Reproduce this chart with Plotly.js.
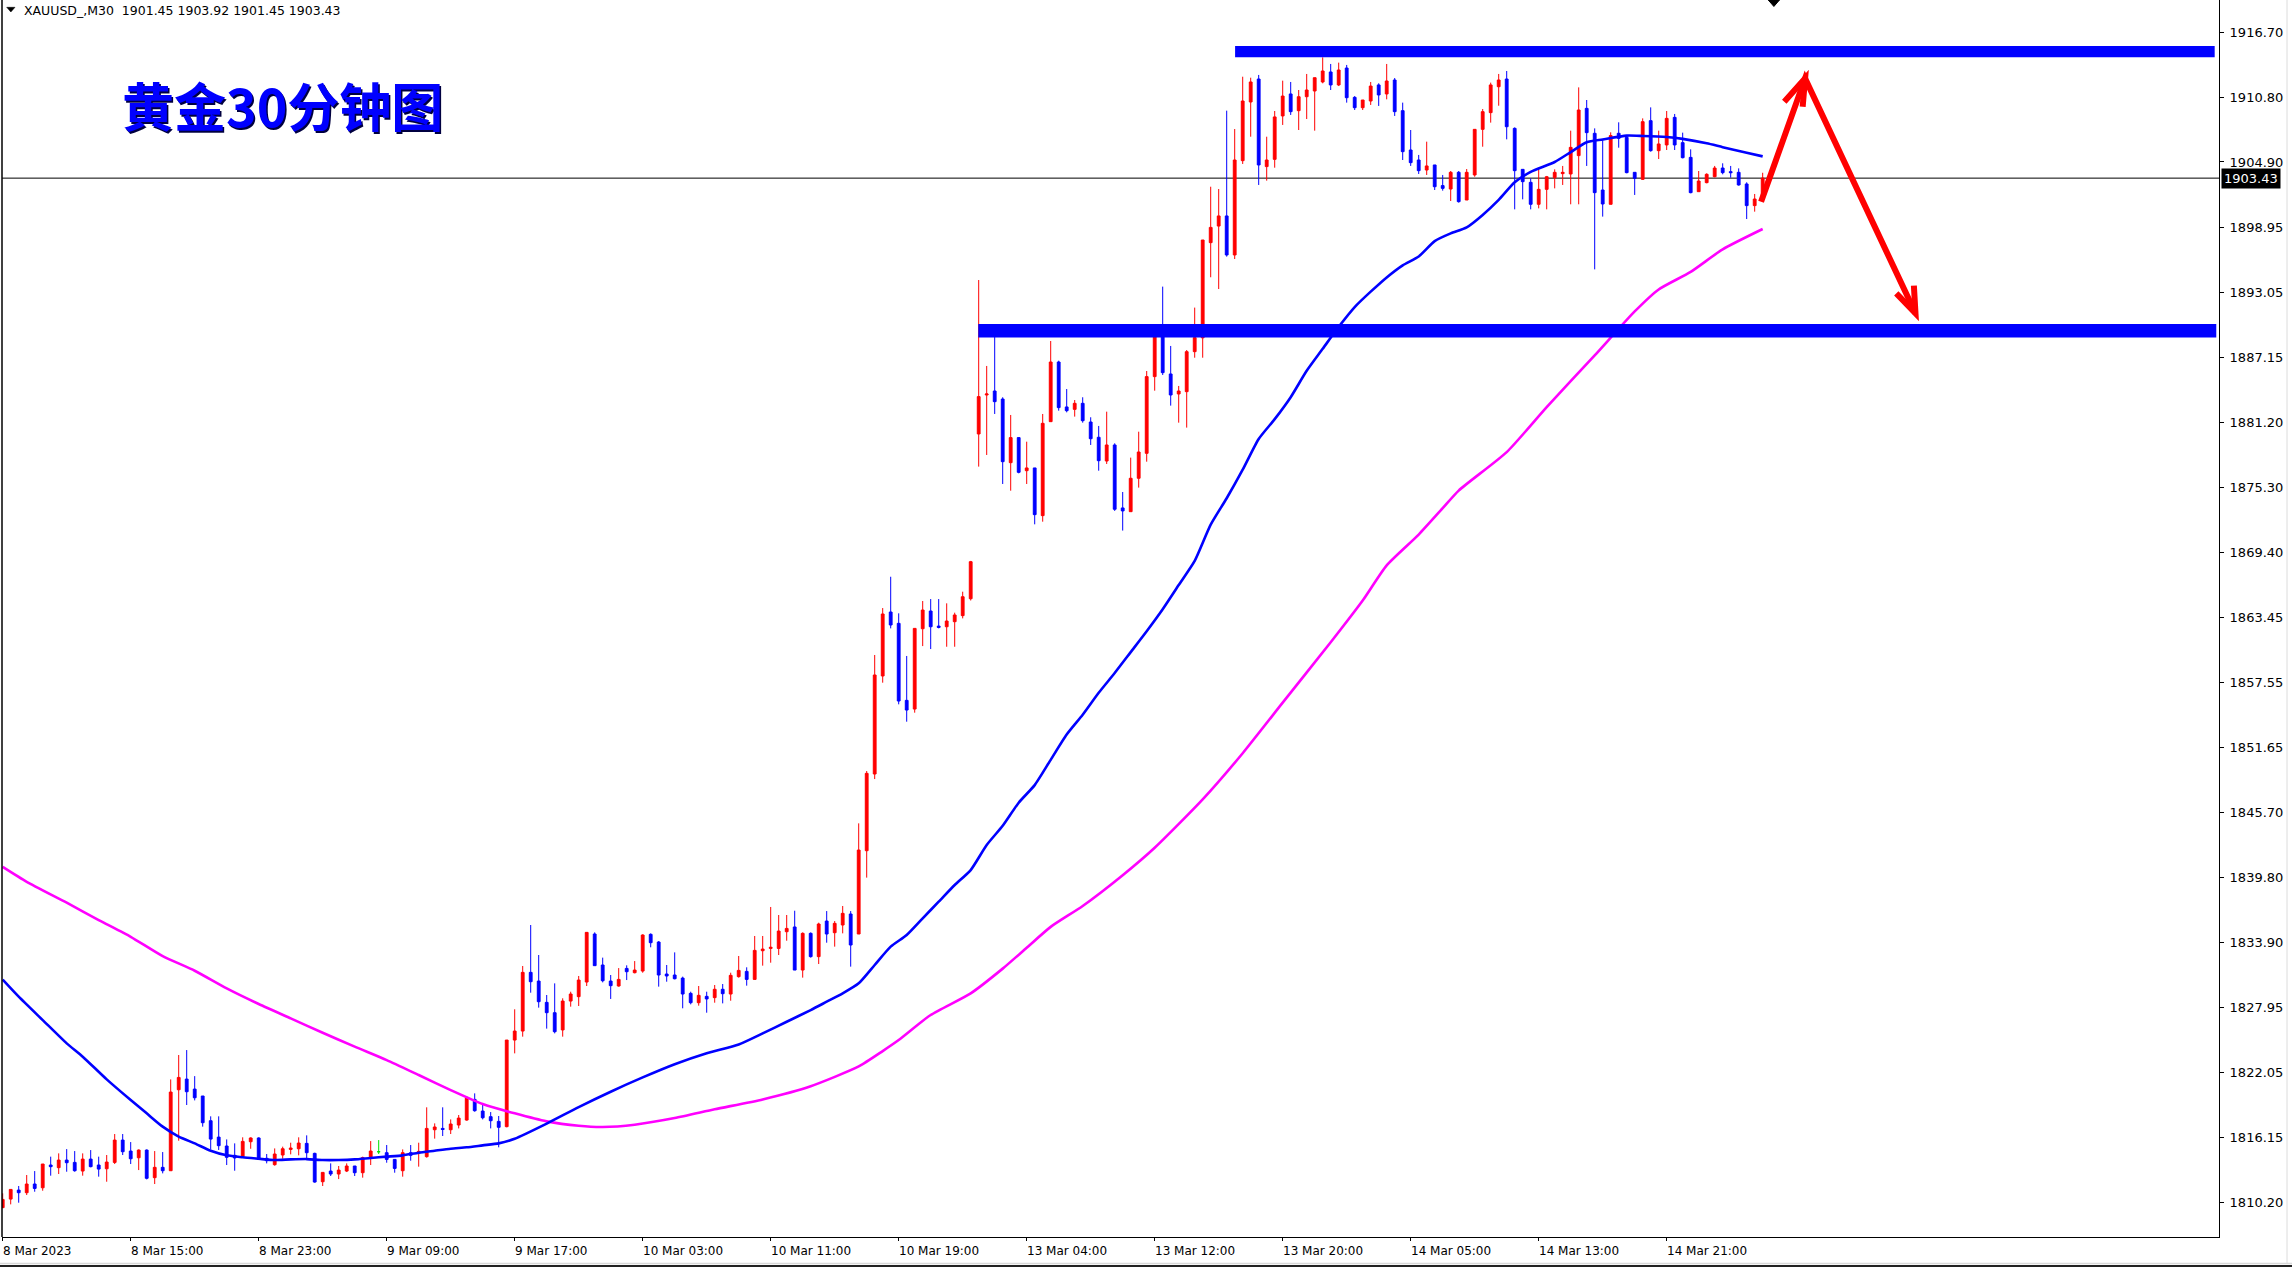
<!DOCTYPE html>
<html><head><meta charset="utf-8">
<script src="https://cdn.plot.ly/plotly-3.0.1.min.js"></script>
<style>html,body{margin:0;padding:0;background:#fff;overflow:hidden}#chart{width:2292px;height:1267px}</style>
</head><body><div id="chart"></div>
<script>
const symbolInfo = "XAUUSD_,M30  1901.45 1903.92 1901.45 1903.43";
const chartTitle = "黄金30分钟图";

const openP = [1809.75,1810.53,1811.35,1811.11,1811.90,1811.56,1813.63,1813.39,1814.08,1813.87,
1813.08,1814.17,1813.63,1813.29,1813.87,1815.90,1814.90,1814.29,1814.99,1812.48,
1813.42,1813.11,1820.48,1821.45,1820.54,1819.91,1817.66,1816.17,1815.36,1814.51,
1814.39,1815.75,1816.09,1814.24,1813.66,1814.54,1815.05,1815.11,1815.60,1814.69,
1812.11,1813.08,1812.81,1813.08,1813.54,1812.93,1814.33,1814.84,1814.75,1814.14,
1813.11,1814.75,1814.69,1814.39,1816.84,1816.96,1816.84,1817.27,1817.72,1819.60,
1818.54,1818.03,1817.60,1817.12,1825.00,1825.82,1831.16,1830.37,1828.43,1827.49,
1825.92,1828.55,1828.95,1830.28,1834.65,1831.83,1830.37,1829.92,1831.52,1831.13,
1831.28,1834.62,1833.92,1831.01,1830.92,1830.64,1829.25,1828.40,1828.98,1828.86,
1829.62,1829.19,1830.77,1831.25,1830.52,1833.13,1833.34,1833.34,1834.86,1835.29,
1831.37,1834.71,1832.59,1835.83,1834.77,1835.47,1836.47,1834.65,1842.23,1849.21,
1858.13,1863.95,1862.92,1855.91,1855.12,1862.43,1864.04,1862.67,1862.61,1863.07,
1863.62,1865.16,1880.15,1883.70,1884.06,1883.33,1877.54,1879.82,1876.81,1877.06,
1872.72,1881.27,1886.70,1882.61,1882.39,1882.94,1881.24,1879.85,1877.69,1879.15,
1873.42,1873.08,1876.12,1878.39,1885.37,1889.30,1885.61,1883.79,1884.00,1887.64,
1888.90,1897.56,1899.07,1899.99,1896.44,1905.02,1910.36,1912.45,1904.48,1905.14,
1909.09,1911.09,1909.57,1910.84,1911.36,1912.18,1913.09,1911.91,1913.45,1910.78,
1909.84,1910.45,1911.91,1911.09,1912.36,1909.57,1905.99,1905.08,1904.17,1904.63,
1902.75,1902.44,1903.96,1901.44,1903.72,1907.87,1909.39,1911.75,1912.45,1907.96,
1904.23,1903.05,1901.05,1902.41,1903.47,1903.84,1903.81,1905.48,1909.78,1907.51,
1902.35,1901.05,1907.51,1907.14,1903.96,1903.32,1908.66,1905.93,1906.45,1908.96,
1906.66,1905.32,1902.20,1903.02,1903.56,1904.35,1904.02,1903.96,1902.90,1900.93,
1901.45];
const highP = [1811.05,1811.41,1811.72,1812.72,1813.08,1813.72,1814.39,1814.69,1815.08,1814.90,
1814.69,1814.99,1814.39,1814.54,1816.45,1816.45,1815.72,1815.05,1815.05,1814.90,
1814.81,1821.42,1823.64,1824.09,1821.72,1819.91,1818.06,1818.06,1815.96,1815.60,
1816.15,1816.15,1816.15,1814.63,1815.14,1815.30,1815.66,1816.15,1816.33,1814.75,
1812.96,1813.78,1813.54,1813.78,1813.54,1814.39,1815.81,1815.90,1815.45,1814.14,
1815.05,1815.45,1815.66,1818.88,1817.42,1818.88,1817.78,1818.18,1819.91,1820.15,
1819.24,1818.45,1818.09,1825.00,1827.80,1831.74,1835.47,1832.74,1829.10,1830.16,
1828.80,1829.40,1830.83,1834.80,1834.80,1832.50,1830.92,1831.55,1831.80,1832.19,
1834.62,1834.71,1834.01,1831.83,1832.98,1830.77,1829.40,1829.92,1829.40,1830.01,
1830.10,1831.13,1832.65,1831.62,1834.47,1834.47,1837.11,1836.38,1836.38,1836.77,
1834.80,1834.80,1835.68,1836.74,1835.83,1837.20,1836.74,1844.72,1849.48,1860.04,
1864.31,1867.16,1863.83,1859.95,1862.46,1864.95,1865.13,1865.13,1864.74,1863.89,
1865.80,1868.60,1894.16,1886.34,1889.01,1883.49,1881.88,1879.82,1879.45,1877.06,
1881.97,1888.61,1886.82,1884.24,1883.24,1883.49,1881.67,1880.88,1882.18,1879.30,
1874.87,1878.00,1880.36,1885.88,1889.50,1893.56,1888.16,1884.52,1887.79,1891.65,
1897.80,1902.65,1902.44,1909.57,1907.90,1912.66,1912.57,1912.82,1907.20,1909.54,
1912.30,1912.18,1911.45,1912.91,1912.57,1914.42,1913.82,1913.94,1913.73,1910.90,
1910.54,1912.18,1912.06,1913.82,1912.54,1910.30,1907.81,1905.54,1906.75,1904.63,
1903.72,1904.08,1904.08,1904.26,1907.87,1909.72,1912.12,1912.91,1913.18,1908.05,
1904.23,1903.41,1904.32,1903.63,1904.23,1904.54,1907.75,1911.69,1910.54,1907.96,
1906.90,1907.60,1908.51,1907.14,1903.96,1908.87,1909.87,1907.75,1909.54,1909.27,
1907.57,1906.05,1904.08,1903.87,1904.54,1904.78,1904.54,1904.32,1903.05,1901.99,
1903.92];
const lowP = [1809.75,1810.05,1810.20,1810.90,1811.20,1811.29,1812.66,1812.81,1813.02,1813.02,
1812.66,1813.42,1812.57,1812.11,1813.72,1814.54,1813.72,1813.17,1812.32,1811.90,
1812.87,1813.11,1815.84,1819.09,1819.51,1817.12,1815.05,1815.00,1813.63,1813.11,
1814.39,1815.11,1814.08,1813.78,1813.57,1814.20,1814.60,1814.51,1814.24,1812.02,
1811.72,1812.63,1812.35,1812.99,1812.63,1812.48,1813.63,1814.63,1813.84,1812.93,
1812.57,1814.02,1813.48,1814.30,1816.03,1816.27,1816.45,1816.96,1817.66,1818.48,
1817.78,1816.96,1815.24,1817.06,1823.79,1825.31,1829.31,1827.95,1826.04,1825.61,
1825.31,1828.04,1828.10,1829.92,1831.77,1830.25,1828.74,1829.86,1830.46,1831.07,
1831.13,1833.44,1829.86,1830.31,1830.52,1827.89,1828.25,1828.13,1827.49,1828.40,
1828.34,1828.58,1830.68,1829.95,1830.52,1831.77,1832.04,1832.74,1834.04,1831.37,
1830.68,1832.50,1831.92,1833.86,1833.50,1834.71,1831.68,1834.65,1839.78,1848.75,
1857.52,1862.46,1855.55,1853.97,1854.79,1860.85,1860.58,1862.46,1860.79,1860.79,
1863.37,1865.00,1877.18,1878.24,1881.97,1875.60,1874.99,1876.57,1875.60,1871.93,
1872.17,1881.27,1882.27,1882.12,1881.73,1881.18,1879.15,1876.81,1877.42,1873.15,
1871.36,1873.08,1875.27,1877.63,1884.09,1885.52,1882.73,1881.18,1880.73,1887.09,
1887.09,1894.41,1893.34,1896.29,1896.07,1904.72,1907.20,1902.81,1903.20,1904.38,
1908.27,1909.18,1907.81,1908.81,1907.75,1912.06,1911.45,1911.81,1910.30,1909.63,
1909.63,1910.09,1910.00,1910.60,1909.09,1905.08,1904.54,1903.81,1903.72,1902.35,
1902.29,1901.35,1901.20,1901.44,1903.56,1906.29,1908.48,1910.02,1906.96,1900.59,
1901.50,1900.59,1900.68,1900.59,1902.50,1902.81,1901.05,1901.05,1904.54,1895.13,
1899.93,1901.05,1906.20,1903.87,1901.90,1903.26,1905.84,1905.17,1905.99,1905.99,
1905.23,1902.05,1902.20,1902.96,1903.50,1903.78,1903.47,1902.75,1899.71,1900.38,
1901.45];
const closeP = [1810.50,1811.41,1811.11,1811.90,1811.50,1813.72,1813.48,1814.08,1813.84,1813.11,
1814.17,1813.48,1813.26,1813.90,1815.90,1814.84,1814.20,1814.99,1812.42,1813.42,
1813.11,1820.27,1821.60,1820.30,1819.75,1817.48,1815.99,1815.39,1814.33,1814.27,
1815.78,1816.09,1814.14,1814.02,1814.63,1815.11,1815.17,1815.63,1814.75,1812.08,
1812.96,1812.81,1813.17,1813.54,1812.93,1814.30,1814.90,1814.84,1814.14,1813.32,
1814.75,1814.51,1814.87,1816.96,1817.09,1816.87,1817.36,1817.90,1819.72,1818.57,
1817.93,1817.66,1817.06,1825.00,1825.82,1831.16,1830.31,1828.49,1827.49,1825.76,
1828.55,1829.19,1830.46,1834.80,1831.77,1830.40,1829.95,1830.52,1831.22,1831.37,
1834.56,1833.86,1830.92,1830.83,1830.58,1829.19,1828.40,1829.07,1828.74,1829.62,
1829.22,1830.89,1831.34,1830.52,1833.16,1833.28,1833.44,1834.92,1835.16,1831.37,
1834.71,1832.59,1835.56,1834.65,1835.62,1836.53,1833.65,1842.29,1849.27,1858.22,
1863.77,1862.77,1855.85,1855.03,1862.46,1864.13,1862.61,1862.55,1863.13,1863.68,
1865.34,1868.53,1883.55,1883.79,1883.09,1877.63,1879.82,1876.66,1877.06,1872.81,
1881.12,1886.70,1882.55,1882.27,1882.94,1881.36,1879.72,1877.72,1879.15,1873.30,
1873.15,1876.12,1878.51,1885.37,1889.00,1885.73,1883.70,1884.06,1887.64,1888.92,
1897.80,1898.95,1899.99,1896.44,1905.08,1910.45,1912.18,1904.63,1905.08,1909.00,
1910.90,1909.48,1910.84,1911.45,1912.57,1913.18,1911.91,1913.27,1910.75,1909.84,
1910.54,1911.81,1911.00,1912.27,1909.48,1905.84,1904.84,1904.11,1904.54,1902.65,
1902.50,1903.96,1901.29,1903.96,1907.87,1909.48,1911.91,1912.36,1908.11,1904.11,
1903.11,1901.05,1902.41,1903.56,1903.96,1903.96,1906.23,1909.63,1907.57,1902.11,
1901.08,1907.30,1907.05,1903.93,1903.41,1908.57,1905.93,1906.54,1908.87,1906.45,
1905.29,1902.11,1903.17,1903.78,1904.35,1903.93,1903.93,1902.81,1900.93,1901.53,
1903.43];
const dojiBars = [47];

const maFastIdx = [0,2,5,8,10,13,16,18,20,22,24,26,28,30,32,34,36,38,40,42,44,46,48,50,52,54,56,58,60,62,
64,68,72,76,80,84,88,92,95,98,101,103,105,107,109,111,113,115,117,119,121,123,125,127,129,131,133,135,137,139,
141,143,145,147,149,151,153,155,157,159,161,163,165,167,169,171,173,175,177,179,181,183,185,187,189,191,194,196,198,200,
203,205,208,210,213,215,218,220];
const maFastVal = [1830.5,1828.95,1826.82,1824.70,1823.49,1821.42,1819.54,1818.33,1817.12,1816.21,
1815.60,1814.93,1814.51,1814.33,1814.20,1814.08,1814.14,1814.17,1814.08,1814.08,
1814.14,1814.27,1814.39,1814.51,1814.75,1814.93,1815.11,1815.24,1815.42,1815.60,
1816.02,1817.4,1818.9,1820.3,1821.6,1822.8,1823.8,1824.6,1825.61,1826.67,
1827.73,1828.49,1829.25,1830.16,1831.83,1833.50,1834.56,1836.08,1837.59,1839.11,
1840.47,1842.75,1844.5,1846.6,1848.2,1850.5,1852.8,1854.6,1856.6,1858.4,
1860.3,1862.2,1864.2,1866.4,1868.6,1871.9,1874.3,1876.9,1879.7,1881.5,
1883.5,1885.9,1887.9,1889.9,1891.7,1893.1,1894.4,1895.5,1896.3,1897.7,
1898.4,1898.95,1900.08,1901.45,1903.05,1904.0,1904.9,1905.8,1906.7,1906.95,
1907.3,1907.27,1907.17,1907.0,1906.6,1906.25,1905.75,1905.41];

const maSlowIdx = [0,3,8,12,16,20,24,28,32,36,40,44,48,52,56,60,64,68,72,75,
79,84,89,95,101,107,110,112,116,121,125,128,131,135,140,144,150,155,160,166,
170,173,177,180,182,188,193,199,204,207,211,215,220];
const maSlowVal = [1840.76,1839.4,1837.50,1835.92,1834.40,1832.64,1831.31,1829.70,1828.28,1826.97,
1825.67,1824.40,1823.18,1821.82,1820.45,1819.18,1818.33,1817.6,1817.2,1817.09,
1817.3,1817.9,1818.7,1819.6,1820.8,1822.6,1824.0,1825.0,1827.28,1829.25,
1831.5,1833.4,1835.3,1837.2,1840.0,1842.5,1846.9,1851.1,1855.7,1861.2,
1865.0,1868.2,1871.0,1873.4,1875.0,1878.5,1882.6,1887.3,1891.3,1893.3,
1894.9,1896.95,1898.8];

const xTickIdx = [0,16,32,48,64,80,96,112,128,144,160,176,192,208];
const xTickText = ["8 Mar 2023","8 Mar 15:00","8 Mar 23:00","9 Mar 09:00","9 Mar 17:00","10 Mar 03:00","10 Mar 11:00","10 Mar 19:00","13 Mar 04:00","13 Mar 12:00","13 Mar 20:00","14 Mar 05:00","14 Mar 13:00","14 Mar 21:00"];
const yTickVals = [1916.70,1910.80,1904.90,1898.95,1893.05,1887.15,1881.20,1875.30,1869.40,1863.45,1857.55,1851.65,1845.70,1839.80,1833.90,1827.95,1822.05,1816.15,1810.20];
const lastPrice = 1903.43;
const resistanceBand = [1914.42, 1915.45];
const supportBand = [1888.93, 1890.15];

// build traces
const N = openP.length;
const mainO=[], mainH=[], mainL=[], mainC=[], mainX=[];
const dX=[], dO=[], dH=[], dL=[], dC=[];
for (let i=0;i<N;i++){
  if (dojiBars.indexOf(i) >= 0){ dX.push(i); dO.push(openP[i]); dH.push(highP[i]); dL.push(lowP[i]); dC.push(closeP[i]); }
  else { mainX.push(i); mainO.push(openP[i]); mainH.push(highP[i]); mainL.push(lowP[i]); mainC.push(closeP[i]); }
}
const RED='#FF0000', BLUE='#0000FF', MAG='#FF00FF';
const traces = [
  {type:'candlestick', x:mainX, open:mainO, high:mainH, low:mainL, close:mainC,
   increasing:{line:{color:RED,width:1}, fillcolor:RED},
   decreasing:{line:{color:BLUE,width:1}, fillcolor:BLUE},
   whiskerwidth:0, hoverinfo:'skip', showlegend:false},
  {type:'candlestick', x:dX, open:dO, high:dH, low:dL, close:dC,
   increasing:{line:{color:'#00E000',width:1}, fillcolor:'#00E000'},
   decreasing:{line:{color:'#00E000',width:1}, fillcolor:'#00E000'},
   whiskerwidth:0, hoverinfo:'skip', showlegend:false},
  {type:'scatter', mode:'lines', x:maSlowIdx, y:maSlowVal, line:{color:MAG,width:2.6,shape:'spline',smoothing:0.6}, hoverinfo:'skip', showlegend:false},
  {type:'scatter', mode:'lines', x:maFastIdx, y:maFastVal, line:{color:BLUE,width:2.6,shape:'spline',smoothing:0.6}, hoverinfo:'skip', showlegend:false}
];

const W=2292, H=1267, ML=2, MR=73, MT=0, MB=30;
const plotW = W-ML-MR, plotH = H-MT-MB;
const px = (xp)=> (xp-ML)/plotW;        // pixel x -> paper
const py = (yp)=> 1-(yp-MT)/plotH;       // pixel y -> paper

const annotations = [];
xTickIdx.forEach((v,k)=>{
  annotations.push({x:v, xref:'x', y:py(1250.5), yref:'paper', text:xTickText[k], showarrow:false,
    xanchor:'left', yanchor:'middle', xshift:-2, font:{family:'DejaVu Sans', size:12, color:'#000'}});
});
annotations.push({x:px(22), xref:'paper', y:py(10.7), yref:'paper', text:symbolInfo, showarrow:false,
  xanchor:'left', yanchor:'middle', font:{family:'DejaVu Sans', size:12.5, color:'#000'}});
annotations.push({x:px(282.5), xref:'paper', y:py(104), yref:'paper', text:chartTitle, showarrow:false,
  xanchor:'center', yanchor:'middle',
  font:{family:'Noto Sans CJK SC', size:52, color:BLUE, weight:700, shadow:'1.5px 1.5px 0px #000040'}});
annotations.push({x:1, xref:'paper', xshift:2, y:lastPrice, yref:'y', text:lastPrice.toFixed(2), showarrow:false,
  xanchor:'left', yanchor:'middle', bgcolor:'#000', borderpad:2,
  font:{family:'DejaVu Sans', size:13, color:'#fff'}});

const shapes = [
  {type:'line', xref:'paper', yref:'y', x0:0, x1:1, y0:lastPrice, y1:lastPrice, line:{color:'#000', width:1}, layer:'below'},
  {type:'line', xref:'paper', yref:'paper', x0:0, x1:0, y0:0, y1:1, line:{color:'#000', width:1.5}},
  {type:'rect', xref:'x', yref:'y', x0:154.05, x1:276.5, y0:resistanceBand[0], y1:resistanceBand[1], fillcolor:BLUE, line:{width:0}},
  {type:'rect', xref:'x', yref:'y', x0:121.95, x1:276.7, y0:supportBand[0], y1:supportBand[1], fillcolor:BLUE, line:{width:0}},
  {type:'path', xref:'x', yref:'y', path:'M 219.8,1901.28 L 225.3,1912.51 L 239.1,1891.13', line:{color:RED, width:6}},
  {type:'path', xref:'x', yref:'y', path:'M 222.7,1910.38 L 225.3,1912.51 L 225.0,1909.93', line:{color:RED, width:6}},
  {type:'path', xref:'x', yref:'y', path:'M 236.7,1892.95 L 239.1,1891.13 L 238.9,1893.65', line:{color:RED, width:6}},
  {type:'path', xref:'x', yref:'y', path:'M 220.7,1919.64 L 222.1,1919.64 L 221.4,1919.05 Z', fillcolor:'#000', line:{color:'#000', width:1}},
  {type:'path', xref:'paper', yref:'paper', path:`M ${px(6.7)},${py(7.3)} L ${px(15)},${py(7.3)} L ${px(10.85)},${py(12)} Z`, fillcolor:'#000', line:{color:'#000', width:0.5}},
  {type:'line', xref:'paper', yref:'paper', x0:px(0), x1:px(2292), y0:py(1263.5), y1:py(1263.5), line:{color:'#d8d8d8', width:1.5}},
  {type:'line', xref:'paper', yref:'paper', x0:px(0), x1:px(2292), y0:py(1266), y1:py(1266), line:{color:'#222', width:2}},
  {type:'line', xref:'paper', yref:'paper', x0:px(2287), x1:px(2287), y0:py(0), y1:py(1263), line:{color:'#dcdcdc', width:1}}
];

const layout = {
  width:W, height:H, margin:{l:ML, r:MR, t:MT, b:MB, pad:0},
  paper_bgcolor:'#fff', plot_bgcolor:'#fff', showlegend:false, hovermode:false, dragmode:false,
  boxgap:0.5,
  xaxis:{range:[-0.0875, 277.04], showgrid:false, zeroline:false, showline:true, linecolor:'#000', linewidth:1,
    ticks:'outside', ticklen:3, tickcolor:'#000', tickvals:xTickIdx, showticklabels:false,
    rangeslider:{visible:false}, fixedrange:true},
  yaxis:{range:[1807.08, 1919.64], side:'right', showgrid:false, zeroline:false, showline:true, linecolor:'#000', linewidth:1,
    ticks:'outside', ticklen:4, tickcolor:'#000', tickvals:yTickVals, ticktext:yTickVals.map(v=>v.toFixed(2)),
    tickfont:{family:'DejaVu Sans', size:13, color:'#000'}, ticklabelstandoff:3, fixedrange:true},
  annotations:annotations, shapes:shapes
};
Plotly.newPlot('chart', traces, layout, {staticPlot:true, displayModeBar:false});
</script></body></html>
